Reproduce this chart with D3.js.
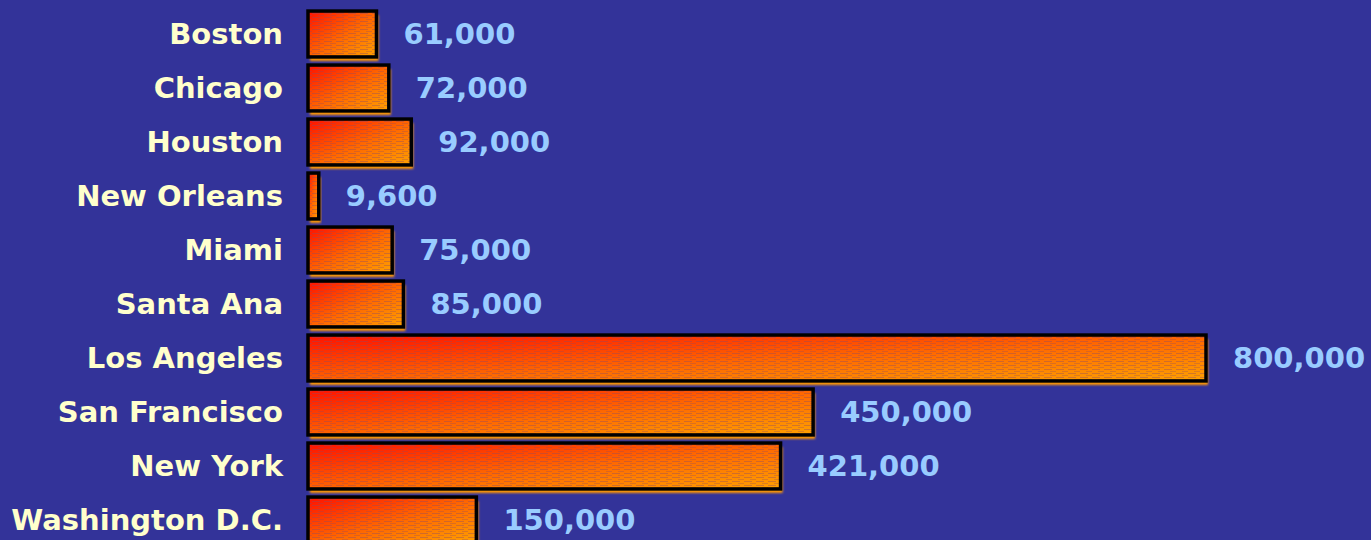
<!DOCTYPE html>
<html>
<head>
<meta charset="utf-8">
<script src="https://cdn.jsdelivr.net/npm/d3@7"></script>
<style>
    html, body { margin: 0; padding: 0; background: #333399; overflow: hidden; }
</style>
</head>
<body>
<div id="chart"></div>
<script>
const cities = ["Boston", "Chicago", "Houston", "New Orleans", "Miami", "Santa Ana",
    "Los Angeles", "San Francisco", "New York", "Washington D.C."];
const counts = [61000, 72000, 92000, 9600, 75000, 85000, 800000, 450000, 421000, 150000];

const W = 1371, H = 540;
const margin = {top: 7, right: 165, bottom: 0, left: 308};

const svg = d3.select("#chart").append("svg")
    .attr("width", W)
    .attr("height", H);

svg.append("rect").attr("width", W).attr("height", H).attr("fill", "#333399");

const defs = svg.append("defs");

const grad = defs.append("linearGradient")
    .attr("id", "barFill")
    .attr("x1", 0).attr("y1", 0).attr("x2", 1).attr("y2", 1);
grad.append("stop").attr("offset", "0%").attr("stop-color", "#ff1000");
grad.append("stop").attr("offset", "55%").attr("stop-color", "#ff6a00");
grad.append("stop").attr("offset", "100%").attr("stop-color", "#ffa000");

// fine horizontal dash texture
const pat = defs.append("pattern")
    .attr("id", "texture")
    .attr("patternUnits", "userSpaceOnUse")
    .attr("width", 12).attr("height", 4);
pat.append("rect").attr("x", 0).attr("y", 1).attr("width", 8).attr("height", 1)
    .attr("fill", "#8a4a6a").attr("opacity", 0.4);
pat.append("rect").attr("x", 6).attr("y", 3).attr("width", 8).attr("height", 1)
    .attr("fill", "#8a4a6a").attr("opacity", 0.3);

const blur = defs.append("filter").attr("id", "soft");
blur.append("feGaussianBlur").attr("stdDeviation", 0.8);

const data = cities.map((c, i) => ({city: c, count: counts[i]}));

const y = d3.scaleBand()
    .domain(cities)
    .range([margin.top, 547])
    .paddingInner(0.15)
    .paddingOuter(0.075);

const x = d3.scaleLinear()
    .domain([0, 800000])
    .range([margin.left, 1206]);

const rows = svg.selectAll(".row")
    .data(data)
    .enter().append("g")
    .attr("class", "row");

// orange drop shadow
rows.append("rect")
    .attr("x", x(0) + 2)
    .attr("y", d => y(d.city) + 4)
    .attr("width", d => x(d.count) - x(0))
    .attr("height", y.bandwidth())
    .attr("fill", "#ff9900")
    .attr("filter", "url(#soft)");

rows.append("rect")
    .attr("x", x(0))
    .attr("y", d => y(d.city))
    .attr("width", d => x(d.count) - x(0))
    .attr("height", y.bandwidth())
    .attr("fill", "url(#barFill)");

rows.append("rect")
    .attr("x", x(0))
    .attr("y", d => y(d.city))
    .attr("width", d => x(d.count) - x(0))
    .attr("height", y.bandwidth())
    .attr("fill", "url(#texture)")
    .attr("stroke", "#000")
    .attr("stroke-width", 3.5);

rows.append("text")
    .attr("x", 283)
    .attr("y", d => y(d.city) + y.bandwidth() / 2)
    .attr("dy", "0.36em")
    .attr("text-anchor", "end")
    .attr("fill", "#ffffcc")
    .style("font", "bold 29px 'DejaVu Sans', Verdana, sans-serif")
    .text(d => d.city);

rows.append("text")
    .attr("x", d => x(d.count) + 27)
    .attr("y", d => y(d.city) + y.bandwidth() / 2)
    .attr("dy", "0.36em")
    .attr("fill", "#99ccff")
    .style("font", "bold 29px 'DejaVu Sans', Verdana, sans-serif")
    .text(d => d3.format(",")(d.count));
</script>
</body>
</html>
